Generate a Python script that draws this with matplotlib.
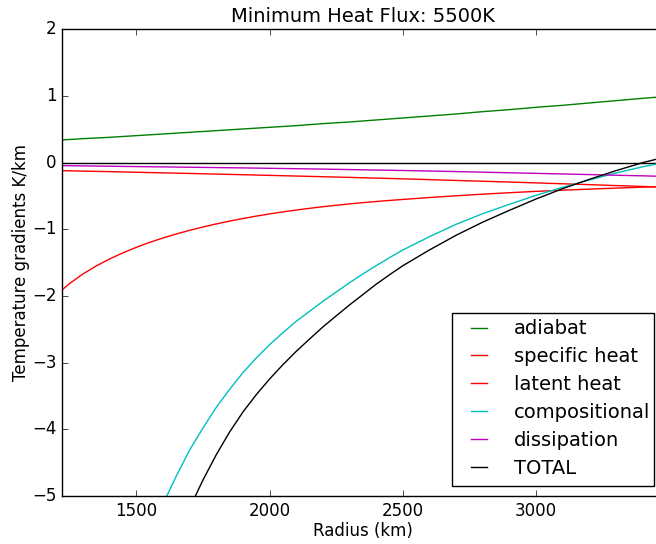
import matplotlib
matplotlib.use("Agg")
import matplotlib.pyplot as plt
from matplotlib.patches import Rectangle

plt.style.use("classic")

# coarse radius grid for the nearly straight curves
radius = [1221, 1300, 1400, 1500, 1600, 1700, 1800, 1900, 2000, 2100, 2200, 2300,
          2400, 2500, 2600, 2700, 2800, 2900, 3000, 3100, 3200, 3300, 3400, 3480]

adiabat = [0.34, 0.36, 0.38, 0.405, 0.43, 0.455, 0.48, 0.505, 0.53, 0.555, 0.585, 0.61,
           0.64, 0.67, 0.70, 0.73, 0.765, 0.795, 0.83, 0.86, 0.895, 0.93, 0.965, 0.99]

specific_heat = [-0.12, -0.127, -0.135, -0.144, -0.153, -0.162, -0.172, -0.181, -0.191,
                 -0.201, -0.211, -0.221, -0.232, -0.243, -0.255, -0.267, -0.279, -0.291,
                 -0.304, -0.317, -0.330, -0.344, -0.357, -0.368]

dissipation = [-0.045, -0.049, -0.054, -0.059, -0.064, -0.069, -0.074, -0.079, -0.085,
               -0.091, -0.097, -0.104, -0.111, -0.118, -0.126, -0.134, -0.143, -0.152,
               -0.161, -0.170, -0.179, -0.189, -0.198, -0.206]

# finer radius grid for the strongly curved ones
radius_fine = [1221, 1250, 1300, 1350, 1400, 1450, 1500, 1550, 1600, 1650, 1700, 1750,
               1800, 1850, 1900, 1950, 2000, 2050, 2100, 2150, 2200, 2250, 2300, 2350,
               2400, 2450, 2500, 2600, 2700, 2800, 2900, 3000, 3100, 3200, 3300, 3400,
               3480]

latent_heat = [-1.909, -1.812, -1.668, -1.548, -1.444, -1.352, -1.270, -1.196, -1.130,
               -1.070, -1.015, -0.965, -0.919, -0.877, -0.838, -0.802, -0.769, -0.739,
               -0.711, -0.685, -0.661, -0.639, -0.619, -0.600, -0.583, -0.567, -0.552,
               -0.523, -0.497, -0.473, -0.451, -0.431, -0.413, -0.397, -0.382, -0.368,
               -0.357]

compositional = [-9.84, -9.33, -8.52, -7.80, -7.15, -6.58, -6.05, -5.57, -5.12, -4.70,
                 -4.31, -3.98, -3.67, -3.40, -3.15, -2.93, -2.73, -2.55, -2.38, -2.23,
                 -2.08, -1.94, -1.80, -1.67, -1.545, -1.425, -1.31, -1.11, -0.925, -0.765,
                 -0.625, -0.49, -0.37, -0.26, -0.155, -0.062, 0.0]

total = [-11.57, -10.96, -10.00, -9.16, -8.40, -7.74, -7.12, -6.56, -6.08, -5.65,
         -5.18, -4.76, -4.38, -4.04, -3.74, -3.48, -3.245, -3.03, -2.83, -2.645,
         -2.464, -2.298, -2.134, -1.979, -1.823, -1.682, -1.546, -1.309, -1.089, -0.892,
         -0.715, -0.545, -0.39, -0.25, -0.12, 0.0, 0.08]

labels = ["adiabat", "specific heat", "latent heat", "compositional", "dissipation", "TOTAL"]
colors = ["g", "r", "r", "c", "m", "k"]

W, H = 656, 544
fig = plt.figure(figsize=(W / 100, H / 100), dpi=100, facecolor="white")
ax = fig.add_axes([62 / W, 1 - 496 / H, (664 - 62) / W, (496 - 29.3) / H])
ax.set_facecolor("white")

ax.axhline(0, color="k", lw=1)
series = [(radius, adiabat), (radius, specific_heat), (radius_fine, latent_heat),
          (radius_fine, compositional), (radius, dissipation), (radius_fine, total)]
for (rr, vals), lab, col in zip(series, labels, colors):
    ax.plot(rr, vals, color=col, lw=1, label=lab)

ax.set_xlim(1221, 3480)
ax.set_ylim(-5, 2)
ax.set_xticks([1500, 2000, 2500, 3000])
ax.set_yticks([-5, -4, -3, -2, -1, 0, 1, 2])
ax.set_xlabel("Radius (km)", fontsize=12, labelpad=2)
ax.set_ylabel("Temperature gradients K/km", fontsize=12)
ax.yaxis.set_label_coords((30.5 - 62) / 602, 0.5)
ax.set_title("Minimum Heat Flux: 5500K", fontsize=14)

# legend frame drawn separately so its padding matches the reference
frame = Rectangle((451.7 / W, 1 - 485.7 / H), (654 - 451.7) / W, (485.7 - 312.7) / H,
                  transform=fig.transFigure, facecolor="white", edgecolor="black",
                  lw=1, zorder=4.9, clip_on=False)
ax.add_patch(frame)
ax.legend(loc="upper left", bbox_to_anchor=(465 / W, 1 - 319.4 / H),
          bbox_transform=fig.transFigure, frameon=False, fontsize=14,
          handlelength=1.44, handletextpad=1.08, borderpad=0.0, labelspacing=0.455,
          borderaxespad=0.0)

fig.savefig("out.png", dpi=100, facecolor="white")
